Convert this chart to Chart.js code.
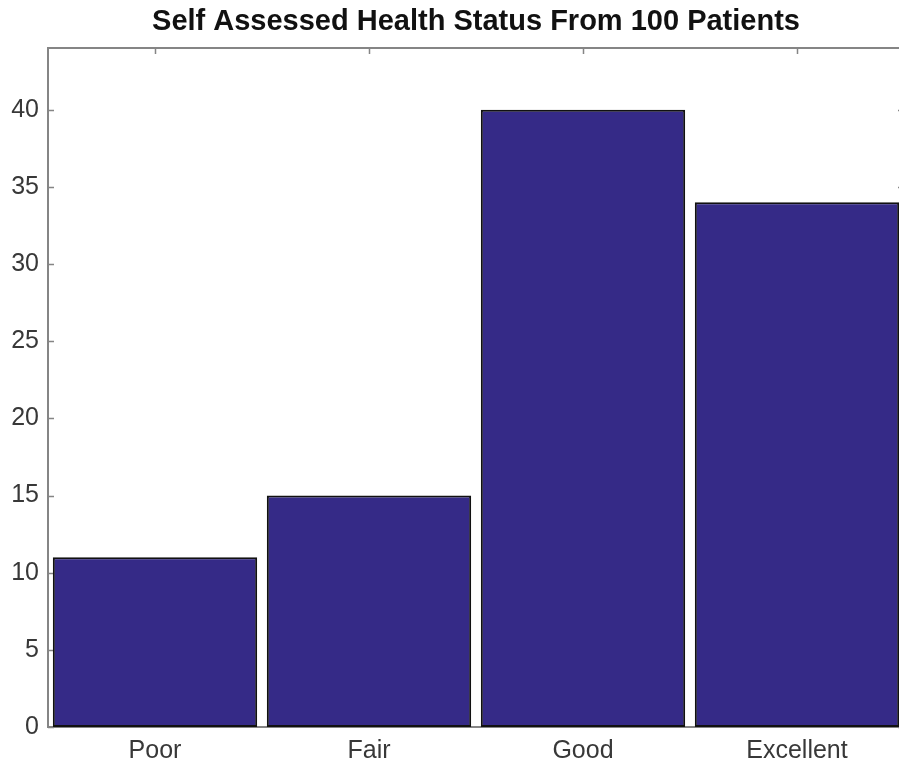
<!DOCTYPE html>
<html>
<head>
<meta charset="utf-8">
<script src="https://cdn.jsdelivr.net/npm/chart.js@4"></script>
<style>
  html, body { margin: 0; padding: 0; background: #fff; overflow: hidden; }
  #wrap { position: relative; width: 906px; height: 763px; }
</style>
</head>
<body>
<div id="wrap"><canvas id="healthChart"></canvas></div>
<script>
// ===============================
// DATA
// ===============================
const categories = ["Poor", "Fair", "Good", "Excellent"];
const patientCounts = [11, 15, 40, 34];
const yTickValues = [0, 5, 10, 15, 20, 25, 30, 35, 40];
const yMax = 44;
const chartTitle = "Self Assessed Health Status From 100 Patients";

// ===============================
// STYLE
// ===============================
const barColor = "#352a87";
const axisColor = "#858585";
const labelColor = "#383838";
const fontFamily = '"Liberation Sans", Arial, Helvetica, sans-serif';

// MATLAB style box: top/right lines, inward ticks, title over the axes
const boxPlugin = {
  id: "matlabBox",
  beforeDatasetsDraw(chart) {
    const { ctx, chartArea: a, scales } = chart;
    const len = 6;
    ctx.save();
    ctx.strokeStyle = axisColor;
    ctx.lineWidth = 1.5;
    ctx.beginPath();
    scales.y.ticks.forEach(t => {
      const y = Math.round(scales.y.getPixelForValue(t.value)) + 0.5;
      ctx.moveTo(a.left, y); ctx.lineTo(a.left + len, y);
      ctx.moveTo(a.right, y); ctx.lineTo(a.right - len, y);
    });
    categories.forEach((c, i) => {
      const x = Math.round(scales.x.getPixelForValue(i)) + 0.5;
      ctx.moveTo(x, a.top); ctx.lineTo(x, a.top + len);
      ctx.moveTo(x, a.bottom); ctx.lineTo(x, a.bottom - len);
    });
    ctx.stroke();
    ctx.restore();
  },
  afterDraw(chart) {
    const { ctx, chartArea: a } = chart;
    ctx.save();
    ctx.strokeStyle = axisColor;
    ctx.lineWidth = 2;
    ctx.beginPath();
    ctx.moveTo(a.left, a.top);
    ctx.lineTo(a.right, a.top);
    ctx.lineTo(a.right, a.bottom);
    ctx.stroke();

    ctx.fillStyle = "#111111";
    ctx.font = "bold 29px " + fontFamily;
    ctx.textAlign = "center";
    ctx.textBaseline = "middle";
    ctx.fillText(chartTitle, (a.left + a.right) / 2, 22);
    ctx.restore();
  }
};

new Chart(document.getElementById("healthChart"), {
  type: "bar",
  data: {
    labels: categories,
    datasets: [{
      label: "Patients",
      data: patientCounts,
      backgroundColor: barColor,
      borderColor: "#111111",
      borderWidth: 2,
      borderSkipped: false,
      barPercentage: 0.955,
      categoryPercentage: 1
    }]
  },
  options: {
    responsive: true,
    maintainAspectRatio: false,
    animation: false,
    layout: { padding: { top: 48, right: 2, left: 0, bottom: 0 } },
    plugins: {
      legend: { display: false },
      title: { display: false },
      tooltip: { enabled: false }
    },
    scales: {
      x: {
        offset: true,
        grid: { display: false, drawTicks: false },
        border: { display: true, color: axisColor, width: 2 },
        ticks: {
          color: labelColor,
          font: { family: fontFamily, size: 25 },
          padding: 9,
          maxRotation: 0
        },
        afterFit(scale) { scale.height = 36; }
      },
      y: {
        min: 0,
        max: yMax,
        grid: { display: false, drawTicks: false },
        border: { display: true, color: axisColor, width: 2 },
        ticks: {
          color: labelColor,
          font: { family: fontFamily, size: 25 },
          padding: 9
        },
        afterBuildTicks(scale) {
          scale.ticks = yTickValues.map(v => ({ value: v }));
        },
        afterFit(scale) { scale.width = 48; }
      }
    }
  },
  plugins: [boxPlugin]
});
</script>
</body>
</html>
